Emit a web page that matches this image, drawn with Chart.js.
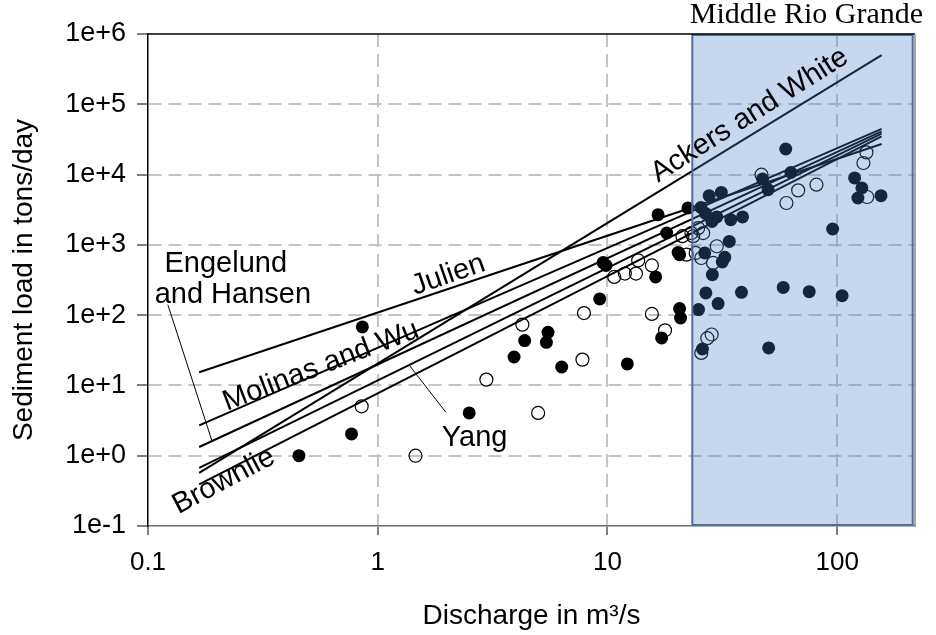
<!DOCTYPE html>
<html>
<head>
<meta charset="utf-8">
<title>Sediment load vs discharge</title>
<script src="https://cdn.jsdelivr.net/npm/chart.js@4.4.1/dist/chart.umd.min.js"></script>
<style>
  body { margin: 0; background: #ffffff; }
  #wrap { width: 936px; height: 635px; }
</style>
</head>
<body>
<div id="wrap"><canvas id="sedimentChart"></canvas></div>
<script>

// ==========================================
// DATA
// ==========================================

// transport equations: load at the two ends of each fitted line
const methodQ = [0.167, 156];
const ackersWhite = [0.57, 500000];
const molinasWu = [2.7, 44600];
const engelundHansen = [1.33, 41200];
const yang = [0.67, 38200];
const brownlie = [0.39, 35000];
const julien = [15.4, 27200];

// measured loads, filled markers
const filledQ = [
    0.454, 0.769, 0.857, 2.5, 3.92, 4.36, 5.42, 5.51, 6.32, 9.25,
    9.57, 9.85, 12.2, 16.2, 17.2, 16.6, 18.1, 20.3, 20.6, 20.6,
    20.8, 22.4, 24.9, 25.5, 25.9, 26.5, 26.7, 26.8, 27.7, 28.5,
    28.6, 29.9, 30.3, 31.3, 31.6, 32.4, 33.9, 34.4, 38.3, 38.7,
    47.3, 50.0, 50.3, 58.2, 59.7, 62.8, 75.5, 95.5, 105, 119,
    123, 128, 155
];
const filledLoad = [
    1.0, 2.04, 68, 4.06, 25.4, 43.4, 41, 57, 18.3, 170,
    560, 510, 20.2, 350, 47.4, 2690, 1475, 780, 725, 124,
    91, 3350, 120, 3400, 33, 767, 2800, 207, 5010, 2150,
    377, 2500, 146, 5580, 570, 665, 1120, 2280, 211, 2500,
    8650, 6100, 34.2, 248, 23100, 10700, 216, 1680, 189, 8950,
    4640, 6450, 5010
];

// measured loads, open markers
const openQ = [
    0.851, 1.46, 2.97, 4.26, 4.99, 7.78, 7.9, 10.7, 11.9, 13.3,
    13.6, 15.6, 15.6, 17.8, 21.2, 22.1, 23.2, 23.6, 24.2, 24.8,
    25.6, 25.6, 26.1, 27.2, 28.4, 28.8, 29.9, 46.8, 60.1, 67.6,
    81.2, 130, 134, 135
];
const openLoad = [
    5.05, 1.0, 12.1, 73.3, 4.06, 23.3, 107, 350, 390, 390,
    600, 510, 104, 60.8, 1330, 726, 1470, 1330, 767, 1730,
    29, 650, 1470, 47, 53, 553, 955, 9970, 3940, 5960,
    7180, 14600, 20700, 4800
];

// axis ticks
const xTicks = [0.1, 1, 10, 100];
const xTickLabels = ["0.1", "1", "10", "100"];
const yTicks = [0.1, 1, 10, 100, 1000, 10000, 100000, 1000000];
const yTickLabels = ["1e-1", "1e+0", "1e+1", "1e+2", "1e+3", "1e+4", "1e+5", "1e+6"];

// discharge range of the Middle Rio Grande reach
const rioGrandeQ = [23.4, 213];

// ==========================================
// HELPERS
// ==========================================

const toPoints = (xs, ys) => xs.map((v, i) => ({ x: v, y: ys[i] }));

// load on a power-law line at discharge q (straight in log-log)
function loadOnLine(ends, q) {
    const lx0 = Math.log10(methodQ[0]), lx1 = Math.log10(methodQ[1]);
    const ly0 = Math.log10(ends[0]), ly1 = Math.log10(ends[1]);
    const t = (Math.log10(q) - lx0) / (lx1 - lx0);
    return Math.pow(10, ly0 + (ly1 - ly0) * t);
}

const methodLine = (ends) => ({
    data: toPoints(methodQ, ends),
    showLine: true,
    borderColor: "#000000",
    borderWidth: 2,
    pointRadius: 0,
    fill: false,
    order: 1
});

// ==========================================
// ANNOTATIONS: shaded reach, frame, labels
// ==========================================

const methodLabels = [
    { text: "Ackers and White", q: 43.4, load: 56000, angle: -32.3 },
    { text: "Julien", q: 2.08, load: 290, angle: -19 },
    { text: "Molinas and Wu", q: 0.582, load: 14.7, angle: -21 },
    { text: "Brownlie", q: 0.222, load: 0.345, angle: -28 },
    { text: "Engelund", q: 0.218, load: 416, angle: 0 },
    { text: "and Hansen", q: 0.234, load: 150, angle: 0 },
    { text: "Yang", q: 2.64, load: 1.39, angle: 0 }
];

const annotations = {
    id: "annotations",

    afterDatasetsDraw(chart) {
        const { ctx, chartArea: area, scales: { x } } = chart;
        const left = x.getPixelForValue(rioGrandeQ[0]);
        const right = x.getPixelForValue(rioGrandeQ[1]);

        ctx.save();

        // translucent box over the reach
        ctx.fillStyle = "rgba(70,123,200,0.30)";
        ctx.fillRect(left, area.top, right - left, area.bottom - area.top);
        ctx.strokeStyle = "#4d6f9e";
        ctx.lineWidth = 2;
        ctx.strokeRect(left, area.top + 1, right - left, area.bottom - area.top - 2);

        // plot frame: black top, grey right
        ctx.lineWidth = 1.5;
        ctx.strokeStyle = "#000000";
        ctx.beginPath();
        ctx.moveTo(area.left, area.top);
        ctx.lineTo(area.right, area.top);
        ctx.stroke();
        ctx.strokeStyle = "#8c8c8c";
        ctx.beginPath();
        ctx.moveTo(area.right, area.top);
        ctx.lineTo(area.right, area.bottom);
        ctx.stroke();

        ctx.restore();
    },

    afterDraw(chart) {
        const { ctx, chartArea: area, scales: { x, y } } = chart;

        ctx.save();
        ctx.fillStyle = "#000000";

        // reach title
        const left = x.getPixelForValue(rioGrandeQ[0]);
        const right = x.getPixelForValue(rioGrandeQ[1]);
        ctx.font = "30px 'Liberation Serif', 'Times New Roman', serif";
        ctx.textAlign = "center";
        ctx.textBaseline = "alphabetic";
        ctx.fillText("Middle Rio Grande", (left + right) / 2 + 4, area.top - 11);

        // equation names
        ctx.font = "29px 'Liberation Sans', Arial, sans-serif";
        methodLabels.forEach(l => {
            ctx.save();
            ctx.translate(x.getPixelForValue(l.q), y.getPixelForValue(l.load));
            ctx.rotate(l.angle * Math.PI / 180);
            ctx.fillText(l.text, 0, 0);
            ctx.restore();
        });

        // leader lines
        ctx.strokeStyle = "#000000";
        ctx.lineWidth = 1;
        const leader = (q0, l0, q1, l1) => {
            ctx.beginPath();
            ctx.moveTo(x.getPixelForValue(q0), y.getPixelForValue(l0));
            ctx.lineTo(x.getPixelForValue(q1), y.getPixelForValue(l1));
            ctx.stroke();
        };
        leader(0.122, 141, 0.19, loadOnLine(engelundHansen, 0.19));
        leader(1.37, loadOnLine(yang, 1.37), 1.98, 4.14);

        ctx.restore();
    }
};

// ==========================================
// SEDIMENT LOAD CHART
// ==========================================

Chart.defaults.font.family = "'Liberation Sans', Arial, sans-serif";
Chart.defaults.color = "#000000";

const sedimentChart = document.getElementById("sedimentChart");

if (sedimentChart) {

    new Chart(sedimentChart, {

        type: "scatter",

        data: {

            datasets: [

                methodLine(ackersWhite),
                methodLine(molinasWu),
                methodLine(engelundHansen),
                methodLine(yang),
                methodLine(brownlie),
                methodLine(julien),

                {
                    data: toPoints(filledQ, filledLoad),
                    pointRadius: 6.5,
                    backgroundColor: "#000000",
                    borderWidth: 0,
                    order: 2
                },

                {
                    data: toPoints(openQ, openLoad),
                    pointRadius: 6.5,
                    backgroundColor: "rgba(0,0,0,0)",
                    borderColor: "#000000",
                    borderWidth: 1.2,
                    order: 2
                }

            ]

        },

        options: {

            responsive: true,
            maintainAspectRatio: false,
            animation: false,
            events: [],

            layout: {
                padding: { top: 34, right: 21, left: 0, bottom: 0 }
            },

            plugins: {
                legend: { display: false },
                tooltip: { enabled: false }
            },

            scales: {

                x: {
                    type: "logarithmic",
                    position: "bottom",
                    min: 0.1,
                    max: 218,
                    afterBuildTicks: (scale) => {
                        scale.ticks = xTicks.map(v => ({ value: v }));
                    },
                    afterFit: (scale) => {
                        scale.height = 109;
                    },
                    ticks: {
                        autoSkip: false,
                        maxRotation: 0,
                        padding: 12,
                        font: { size: 26 },
                        callback: (value, index) => xTickLabels[index]
                    },
                    grid: {
                        color: (c) => (c.tick && c.tick.value === 0.1) ? "rgba(0,0,0,0)" : "#c4c4c4",
                        lineWidth: 2,
                        tickColor: "#000000",
                        tickLength: 9,
                        tickWidth: 1
                    },
                    border: {
                        color: "#6e6e6e",
                        width: 1.5,
                        dash: [13, 7]
                    },
                    title: {
                        display: true,
                        text: "Discharge in m³/s",
                        font: { size: 28 },
                        padding: { top: 0, bottom: 2 }
                    }
                },

                y: {
                    type: "logarithmic",
                    position: "left",
                    min: 0.1,
                    max: 1000000,
                    afterBuildTicks: (scale) => {
                        scale.ticks = yTicks.map(v => ({ value: v }));
                    },
                    afterFit: (scale) => {
                        scale.width = 148;
                    },
                    ticks: {
                        autoSkip: false,
                        padding: 11,
                        font: { size: 27 },
                        callback: (value, index) => yTickLabels[index]
                    },
                    grid: {
                        color: (c) => (c.tick && (c.tick.value === 0.1 || c.tick.value === 1000000)) ? "rgba(0,0,0,0)" : "#c4c4c4",
                        lineWidth: 2,
                        tickColor: "#000000",
                        tickLength: 11,
                        tickWidth: 1
                    },
                    border: {
                        color: "#000000",
                        width: 1.5,
                        dash: [13, 7]
                    },
                    title: {
                        display: true,
                        text: "Sediment load in tons/day",
                        font: { size: 28 },
                        padding: { top: 7, bottom: 0 }
                    }
                }

            }

        },

        plugins: [annotations]

    });

}

</script>
</body>
</html>
